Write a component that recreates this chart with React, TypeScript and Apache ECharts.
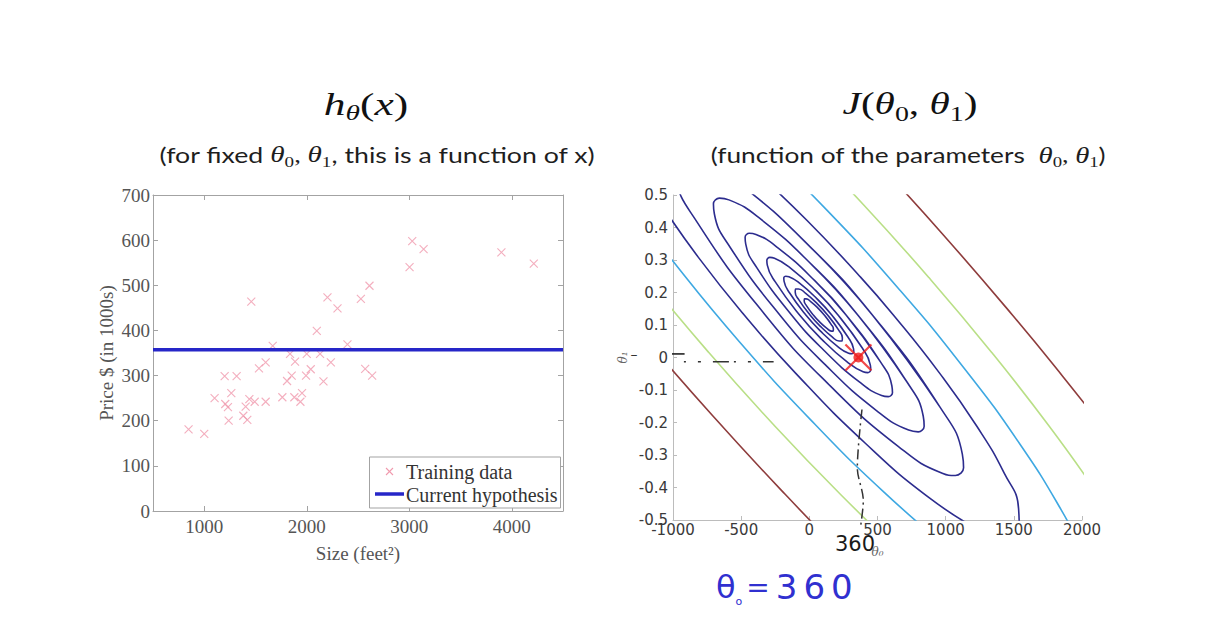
import React, { useEffect, useRef } from "react";
import * as echarts from "echarts";

// ---------------- Left chart: housing data ----------------
const sizeTicks = [1000, 2000, 3000, 4000];
const trainingData: number[][] = [
  [847, 181], [1000, 171], [1101, 250], [1199, 299], [1205, 237], [1231, 230], [1238, 200],
  [1264, 261], [1316, 299], [1381, 211], [1404, 231], [1420, 202], [1440, 248], [1459, 464],
  [1492, 242], [1534, 316], [1599, 329], [1599, 242], [1668, 366], [1762, 252], [1808, 288],
  [1837, 348], [1853, 300], [1879, 252], [1886, 331], [1938, 242], [1954, 261], [1993, 300],
  [2000, 348], [2039, 314], [2098, 399], [2130, 348], [2163, 287], [2202, 473], [2235, 329],
  [2300, 449], [2397, 369], [2528, 470], [2570, 315], [2612, 499], [2638, 300], [3003, 540],
  [3029, 598], [3140, 580], [3899, 573], [4215, 548],
];
const hypothesisLine: number[][] = [[500, 357], [4500, 357]];

// ---------------- Right chart: contour lines of J(theta0, theta1) ----------------
const contourE6: number[][] = [[109.4,0.1308],[159.9,0.1019],[176.6,0.0872],[175.5,0.0813],[161.6,0.0813],[128.9,0.0896],[75.7,0.1095],[29.4,0.1308],[-21.1,0.1597],[-37.8,0.1744],[-36.7,0.1803],[-22.8,0.1803],[9.9,0.1720],[63.1,0.1521]];
const contourE5: number[][] = [[133.9,0.1308],[215.3,0.0843],[242.2,0.0606],[240.4,0.0509],[218.0,0.0509],[165.3,0.0644],[79.5,0.0965],[4.9,0.1308],[-76.5,0.1773],[-103.4,0.2010],[-101.6,0.2107],[-79.2,0.2107],[-26.5,0.1972],[59.3,0.1651]];
const contourE4: number[][] = [[164.4,0.1308],[284.3,0.0623],[323.9,0.0273],[326.1,0.0171],[321.3,0.0131],[311.6,0.0114],[288.3,0.0131],[210.7,0.0329],[84.3,0.0803],[-25.6,0.1308],[-145.5,0.1993],[-185.1,0.2343],[-187.3,0.2445],[-182.5,0.2485],[-172.8,0.2502],[-149.5,0.2485],[-71.9,0.2287],[54.5,0.1813]];
const contourE3: number[][] = [[210.4,0.1308],[388.4,0.0291],[447.1,-0.0227],[450.4,-0.0378],[443.2,-0.0438],[428.9,-0.0464],[394.3,-0.0438],[279.1,-0.0144],[91.5,0.0559],[-71.6,0.1308],[-249.6,0.2325],[-308.3,0.2843],[-311.6,0.2994],[-304.4,0.3054],[-290.1,0.3080],[-255.5,0.3054],[-140.3,0.2760],[47.3,0.2057]];
const contourE2: number[][] = [[269.4,0.1308],[521.9,-0.0135],[605.2,-0.0870],[609.8,-0.1084],[599.7,-0.1169],[579.3,-0.1205],[530.2,-0.1169],[366.9,-0.0752],[100.8,0.0245],[-130.6,0.1308],[-383.1,0.2751],[-466.4,0.3486],[-471.0,0.3700],[-460.9,0.3785],[-440.5,0.3821],[-391.4,0.3785],[-228.1,0.3368],[38.0,0.2371]];
const contourE1: number[][] = [[355.4,0.1308],[716.4,-0.0755],[835.6,-0.1807],[842.2,-0.2113],[827.7,-0.2234],[798.5,-0.2287],[728.4,-0.2234],[494.8,-0.1639],[114.3,-0.0212],[-216.6,0.1308],[-577.6,0.3371],[-696.8,0.4423],[-703.4,0.4729],[-688.9,0.4850],[-659.7,0.4903],[-589.6,0.4850],[-356.0,0.4255],[24.5,0.2828]];
const contourL2: number[][] = [[462.4,0.1308],[958.5,-0.1527],[1122.2,-0.2973],[1131.3,-0.3393],[1111.4,-0.3560],[1071.3,-0.3632],[974.9,-0.3560],[654.0,-0.2741],[131.1,-0.0781],[-323.6,0.1308],[-819.7,0.4143],[-983.4,0.5589],[-992.5,0.6009],[-972.6,0.6176],[-932.5,0.6248],[-836.1,0.6176],[-515.2,0.5357],[7.7,0.3397]];
const contourL3a: number[][] = [[1257.2,-0.5337],[883.1,-0.4328],[410.7,-0.2638],[-102.8,-0.0473],[-477.6,0.1308],[-815.1,0.3089],[-1092.4,0.4748]];
const contourL3b: number[][] = [[-396.3,0.5731],[-16.5,0.4215],[369.2,0.2502],[616.4,0.1308],[953.9,-0.0473],[1231.2,-0.2132],[1429.4,-0.3557],[1534.8,-0.4650],[1540.3,-0.5337]];
const contourL4a: number[][] = [[1032.8,-0.5918],[537.4,-0.4103],[10.0,-0.1918],[-513.2,0.0485],[-996.8,0.2946],[-1280.8,0.4534]];
const contourL4b: number[][] = [[-398.6,0.6719],[128.8,0.4534],[652.0,0.2131],[1135.6,-0.0330],[1546.6,-0.2678],[1856.9,-0.4756],[1997.0,-0.5918]];
const contourL5a: number[][] = [[719.6,-0.6209],[233.0,-0.4230],[-258.6,-0.2084],[-740.0,0.0165],[-1197.3,0.2451]];
const contourL5b: number[][] = [[-94.2,0.6846],[397.4,0.4700],[878.8,0.2451],[1336.1,0.0165],[1754.3,-0.2084],[2121.7,-0.4230],[2282.6,-0.5245]];
const contourL6a: number[][] = [[292.3,-0.6239],[-177.3,-0.4210],[-708.8,-0.1792],[-1225.1,0.0685]];
const contourL6b: number[][] = [[516.4,0.5930],[978.4,0.3794],[1489.4,0.1308],[1854.9,-0.0558],[2201.1,-0.2405]];

const currentTheta: number[][] = [[360, 0]];
const guideHorizontal: number[][] = [[-920, -0.013], [-262, -0.013]];
const guideVertical: number[][] = [[386, -0.16], [352, -0.34], [396, -0.44], [374, -0.525]];
const guideLeftMark: number[][] = [[-1055, 0.011], [-915, 0.011]];

const NAVY = "#2c2c8e";
const CYAN = "#3ea8e2";
const GREEN = "#b9df86";
const BROWN = "#8e3c3c";
const SERIF = "Liberation Serif";

function closeLoop(pts: number[][]): number[][] {
  return [pts[pts.length - 1], ...pts, pts[0], pts[1]];
}

function buildOption(): any {
  const contours = [
    { data: closeLoop(contourE6), color: NAVY },
    { data: closeLoop(contourE5), color: NAVY },
    { data: closeLoop(contourE4), color: NAVY },
    { data: closeLoop(contourE3), color: NAVY },
    { data: closeLoop(contourE2), color: NAVY },
    { data: closeLoop(contourE1), color: NAVY },
    { data: closeLoop(contourL2), color: NAVY },
    { data: contourL3a, color: NAVY },
    { data: contourL3b, color: NAVY },
    { data: contourL4a, color: CYAN },
    { data: contourL4b, color: CYAN },
    { data: contourL5a, color: GREEN },
    { data: contourL5b, color: GREEN },
    { data: contourL6a, color: BROWN },
    { data: contourL6b, color: BROWN },
  ];

  const leftAxisCommon = {
    axisLine: { show: true, onZero: false, lineStyle: { color: "#a3a3a3", width: 1 } },
    axisTick: { show: true, inside: true, length: 5, lineStyle: { color: "#a3a3a3" } },
    splitLine: { show: false },
  };
  const leftLabel = { fontFamily: SERIF, fontSize: 19, color: "#555", formatter: (v: number) => String(v) };
  const rightAxisCommon = {
    axisLine: { show: true, onZero: false, lineStyle: { color: "#bcbcbc", width: 1 } },
    axisTick: { show: true, inside: true, length: 4, lineStyle: { color: "#bcbcbc" } },
    splitLine: { show: false },
  };
  const rightLabel = { fontFamily: "DejaVu Sans", fontSize: 15, color: "#3a3a3a" };

  const titleRich = {
    m: { fontFamily: SERIF, fontStyle: "italic", fontSize: 31, lineHeight: 40, fill: "#111" },
    u: { fontFamily: SERIF, fontSize: 31, lineHeight: 40, fill: "#111" },
    s: { fontFamily: SERIF, fontStyle: "italic", fontSize: 21, lineHeight: 18, verticalAlign: "bottom", fill: "#111" },
    d: { fontFamily: SERIF, fontSize: 21, lineHeight: 18, verticalAlign: "bottom", fill: "#111" },
  };
  const subRich = {
    n: { fontFamily: "Lato", fontSize: 21, lineHeight: 30, fill: "#1e1e1e" },
    m: { fontFamily: SERIF, fontStyle: "italic", fontSize: 23, lineHeight: 30, fill: "#1e1e1e" },
    d: { fontFamily: SERIF, fontSize: 15, lineHeight: 12, verticalAlign: "bottom", fill: "#1e1e1e" },
    p: { fontFamily: SERIF, fontSize: 21, lineHeight: 30, fill: "#1e1e1e" },
  };
  const centered = (x: number, y: number, text: string, rich: any, scaleX: number) => ({
    type: "text", x, y, z: 50, scaleX,
    style: { text, rich, align: "center", verticalAlign: "middle", textAlign: "center", textVerticalAlign: "middle" },
  });
  const BLUE_INK = "#3030d0";
  const inkRich = {
    t: { fontFamily: "DejaVu Sans", fontSize: 32, lineHeight: 40, fill: BLUE_INK },
    o: { fontFamily: "DejaVu Sans", fontSize: 11, lineHeight: 10, verticalAlign: "bottom", fill: BLUE_INK },
    e: { fontFamily: "DejaVu Sans", fontSize: 28, lineHeight: 40, padding: [0, 3, 0, 4], fill: BLUE_INK },
    d: { fontFamily: "DejaVu Sans", fontSize: 34, lineHeight: 40, padding: [0, 3, 0, 3], fill: BLUE_INK },
  };

  return {
    animation: false,
    backgroundColor: "#ffffff",
    grid: [
      { left: 153, top: 195, width: 410, height: 316 },
      { left: 673, top: 195, width: 409, height: 325 },
    ],
    xAxis: [
      {
        gridIndex: 0, type: "value", min: 500, max: 4500, position: "bottom",
        ...leftAxisCommon,
        axisTick: { ...leftAxisCommon.axisTick, customValues: sizeTicks },
        axisLabel: { ...leftLabel, margin: 6, customValues: sizeTicks },
        name: "Size (feet²)", nameLocation: "middle", nameGap: 33,
        nameTextStyle: { fontFamily: SERIF, fontSize: 19, color: "#555" },
      },
      {
        gridIndex: 0, type: "value", min: 500, max: 4500, position: "top",
        ...leftAxisCommon,
        axisTick: { ...leftAxisCommon.axisTick, customValues: sizeTicks },
        axisLabel: { show: false },
      },
      {
        gridIndex: 1, type: "value", min: -1000, max: 2000, interval: 500, position: "bottom",
        ...rightAxisCommon,
        axisLabel: { ...rightLabel, margin: 2, formatter: (v: number) => String(v) },
        name: "θ₀", nameLocation: "middle", nameGap: 26,
        nameTextStyle: { fontFamily: "DejaVu Serif", fontStyle: "italic", fontSize: 12, color: "#666" },
      },
    ],
    yAxis: [
      {
        gridIndex: 0, type: "value", min: 0, max: 700, interval: 100, position: "left",
        ...leftAxisCommon,
        axisLabel: { ...leftLabel, margin: 3 },
        name: "Price $ (in 1000s)", nameLocation: "middle", nameGap: 37,
        nameTextStyle: { fontFamily: SERIF, fontSize: 19, color: "#555" },
      },
      {
        gridIndex: 0, type: "value", min: 0, max: 700, interval: 100, position: "right",
        ...leftAxisCommon,
        axisLabel: { show: false },
      },
      {
        gridIndex: 1, type: "value", min: -0.5, max: 0.5, interval: 0.1, position: "left",
        ...rightAxisCommon,
        axisLabel: { ...rightLabel, margin: 5, formatter: (v: number) => String(Math.round(v * 10) / 10) },
        name: "θ₁", nameLocation: "middle", nameGap: 44,
        nameTextStyle: { fontFamily: "DejaVu Serif", fontStyle: "italic", fontSize: 12, color: "#666" },
      },
    ],
    series: [
      {
        name: "Training data", type: "scatter", xAxisIndex: 0, yAxisIndex: 0,
        data: trainingData, symbol: "path://M0,0L10,10M10,0L0,10", symbolSize: 8,
        itemStyle: { color: "rgba(0,0,0,0)", borderColor: "#f09aae", borderWidth: 1.1 },
        silent: true, z: 3,
      },
      {
        name: "Current hypothesis", type: "line", xAxisIndex: 0, yAxisIndex: 0,
        data: hypothesisLine, symbol: "none",
        lineStyle: { color: "#2626c8", width: 3.5 }, silent: true, z: 4,
      },
      ...contours.map((c) => ({
        type: "line", xAxisIndex: 2, yAxisIndex: 2, data: c.data, smooth: 0.5,
        symbol: "none", lineStyle: { color: c.color, width: 1.6 }, silent: true, clip: true, z: 2,
      })),
      {
        type: "line", xAxisIndex: 2, yAxisIndex: 2, data: guideHorizontal, symbol: "none",
        lineStyle: { color: "#333", width: 1.5, type: [2, 12, 3, 12, 16, 5] }, silent: true, z: 3,
      },
      {
        type: "line", xAxisIndex: 2, yAxisIndex: 2, data: guideVertical, symbol: "none", smooth: 0.3,
        lineStyle: { color: "#333", width: 1.5, type: [10, 4, 2, 4] }, silent: true, clip: false, z: 3,
      },
      {
        type: "line", xAxisIndex: 2, yAxisIndex: 2, data: guideLeftMark, symbol: "none",
        lineStyle: { color: "#222", width: 1.6 }, silent: true, clip: false, z: 3,
      },
      {
        type: "scatter", xAxisIndex: 2, yAxisIndex: 2, data: currentTheta,
        symbol: "path://M0,0L10,10M10,0L0,10", symbolSize: 26,
        itemStyle: { color: "rgba(0,0,0,0)", borderColor: "#ee1b1b", borderWidth: 2.2 },
        silent: true, z: 6,
      },
      {
        type: "scatter", xAxisIndex: 2, yAxisIndex: 2, data: currentTheta,
        symbol: "circle", symbolSize: 10, itemStyle: { color: "#ee1b1b" }, silent: true, z: 7,
      },
    ],
    graphic: [
      centered(366, 104, "{m|h}{s|θ}{u|(}{m|x}{u|)}", titleRich, 1.4),
      centered(910, 104, "{m|J}{u|(}{m|θ}{d|0}{u|, }{m|θ}{d|1}{u|)}", titleRich, 1.33),
      centered(377, 155, "{n|(for fixed }{m|θ}{d|0}{p|, }{m|θ}{d|1}{n|, this is a function of x)}", subRich, 1.27),
      centered(908, 155, "{n|(function of the parameters  }{m|θ}{d|0}{p|, }{m|θ}{d|1}{n|)}", subRich, 1.25),
      // legend of left chart
      { type: "rect", z: 60, shape: { x: 369.5, y: 457, width: 191, height: 51 }, style: { fill: "#fff", stroke: "#a3a3a3", lineWidth: 1 } },
      { type: "line", z: 61, shape: { x1: 386, y1: 468, x2: 393, y2: 475 }, style: { stroke: "#f09aae", lineWidth: 1.1 } },
      { type: "line", z: 61, shape: { x1: 393, y1: 468, x2: 386, y2: 475 }, style: { stroke: "#f09aae", lineWidth: 1.1 } },
      { type: "line", z: 61, shape: { x1: 375, y1: 494, x2: 404, y2: 494 }, style: { stroke: "#2626c8", lineWidth: 3.5 } },
      { type: "text", z: 61, x: 406, y: 472, style: { text: "Training data", fontFamily: SERIF, fontSize: 20, fill: "#333", align: "left", verticalAlign: "middle", textAlign: "left", textVerticalAlign: "middle" } },
      { type: "text", z: 61, x: 406, y: 495, style: { text: "Current hypothesis", fontFamily: SERIF, fontSize: 20, fill: "#333", align: "left", verticalAlign: "middle", textAlign: "left", textVerticalAlign: "middle" } },
      // handwritten annotations
      { type: "text", z: 62, x: 855, y: 544, style: { text: "360", fontFamily: "DejaVu Sans", fontSize: 21, fill: "#1a1a1a", align: "center", verticalAlign: "middle", textAlign: "center", textVerticalAlign: "middle" } },
      { type: "text", z: 62, x: 634, y: 354, style: { text: "–", fontFamily: "DejaVu Sans", fontSize: 14, fill: "#333", align: "center", verticalAlign: "middle", textAlign: "center", textVerticalAlign: "middle" } },
      { type: "text", z: 62, x: 716, y: 587, style: { text: "{t|θ}{o|o}{e|=}{d|3}{d|6}{d|0}", rich: inkRich, align: "left", verticalAlign: "middle", textAlign: "left", textVerticalAlign: "middle" } },
    ],
  };
}

export default function App() {
  const ref = useRef<HTMLDivElement>(null);
  useEffect(() => {
    if (!ref.current) return;
    const chart = echarts.init(ref.current, undefined, { renderer: "svg", width: 1230, height: 644 });
    chart.setOption(buildOption());
    return () => chart.dispose();
  }, []);
  return (
    <div
      ref={ref}
      style={{ position: "fixed", left: 0, top: 0, width: 1230, height: 644, background: "#ffffff" }}
    />
  );
}
